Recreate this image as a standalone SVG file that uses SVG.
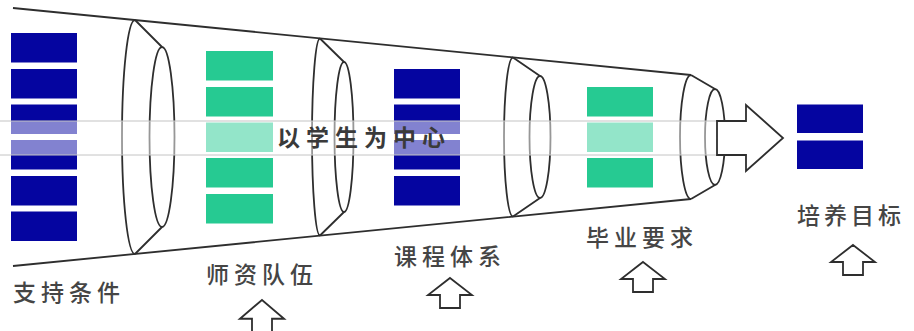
<svg xmlns="http://www.w3.org/2000/svg" xmlns:xlink="http://www.w3.org/1999/xlink" width="914" height="331" viewBox="0 0 914 331">
<style>
.ln{fill:none;stroke:#2e2e2e;stroke-width:1.8;stroke-linejoin:round}
.blue{fill:#0505a0}
.green{fill:#26ca92}
.lbl{font-family:"Noto Sans CJK SC","Noto Sans",sans-serif;font-size:23px;font-weight:500;fill:#454545;letter-spacing:5px}
.up{fill:#fff;stroke:#2e2e2e;stroke-width:1.8;stroke-linejoin:miter}
</style>
<defs>
<path id="uparrow" d="M0,0 L22,17 L10,17 L10,30 L-10,30 L-10,17 L-22,17 Z"/>
</defs>
<rect width="914" height="331" fill="#fff"/>
<g id="funnel">
<path class="ln" d="M13,8 L691,75 M13,266 L691,199"/>
<g id="ring1"><path class="ln" d="M135,20 A13,117 0 0 0 135,254 M135,20 L162,47 M135,254 L162,227"/><ellipse class="ln" cx="162" cy="137" rx="12.5" ry="90"/></g>
<g id="ring2"><path class="ln" d="M320,38.5 A8,98.5 0 0 0 320,235.5 M320,38.5 L344,62 M320,235.5 L344,212"/><ellipse class="ln" cx="344" cy="137" rx="9.5" ry="75"/></g>
<g id="ring3"><path class="ln" d="M513,57.5 A9,79.5 0 0 0 513,216.5 M513,57.5 L540,76 M513,216.5 L540,198"/><ellipse class="ln" cx="540" cy="137" rx="10.5" ry="61"/></g>
<g id="ring4"><path class="ln" d="M691,75 A11,62 0 0 0 691,199 M691,75 L715,89 M691,199 L715,185"/><ellipse class="ln" cx="715" cy="137" rx="10" ry="48"/></g>
</g>
<g id="col-support">
<rect class="blue" x="11" y="33" width="66" height="29.5"/>
<rect class="blue" x="11" y="69" width="66" height="29.5"/>
<rect class="blue" x="11" y="104.5" width="66" height="29.5"/>
<rect class="blue" x="11" y="140" width="66" height="29.5"/>
<rect class="blue" x="11" y="176" width="66" height="29.5"/>
<rect class="blue" x="11" y="211.5" width="66" height="29.5"/>
</g>
<g id="col-teachers">
<rect class="green" x="206" y="51" width="67" height="29.5"/>
<rect class="green" x="206" y="87" width="67" height="29.5"/>
<rect class="green" x="206" y="122.5" width="67" height="29.5"/>
<rect class="green" x="206" y="158" width="67" height="29.5"/>
<rect class="green" x="206" y="194" width="67" height="29.5"/>
</g>
<g id="col-curriculum">
<rect class="blue" x="394" y="69" width="66" height="29.5"/>
<rect class="blue" x="394" y="104.5" width="66" height="29.5"/>
<rect class="blue" x="394" y="140" width="66" height="29.5"/>
<rect class="blue" x="394" y="176" width="66" height="29.5"/>
</g>
<g id="col-graduation">
<rect class="green" x="587" y="87" width="66" height="29.5"/>
<rect class="green" x="587" y="122.5" width="66" height="29.5"/>
<rect class="green" x="587" y="158" width="66" height="29.5"/>
</g>
<g id="col-objectives">
<rect class="blue" x="797" y="104.5" width="66" height="28.5"/>
<rect class="blue" x="797" y="140.5" width="66" height="28.5"/>
</g>
<g id="center-band">
<rect x="-2" y="121" width="720" height="34" fill="#fff" fill-opacity="0.5" stroke="#c4c4c4" stroke-width="1"/>
<text x="277" y="146" style="font-family:'Noto Sans CJK SC','Noto Sans',sans-serif;font-size:23px;font-weight:bold;fill:#3a3a3a;letter-spacing:6px">以学生为中心</text>
</g>
<g id="connectors">
<path id="main-arrow" d="M717,121 L746,121 L746,105 L783,138 L746,171 L746,155 L717,155 Z" fill="#fff" stroke="#2e2e2e" stroke-width="1.8" stroke-linejoin="miter"/>
<use xlink:href="#uparrow" class="up" transform="translate(262,300) scale(1,1.1)"/>
<use xlink:href="#uparrow" class="up" transform="translate(450,278)"/>
<use xlink:href="#uparrow" class="up" transform="translate(643,262)"/>
<use xlink:href="#uparrow" class="up" transform="translate(853,245)"/>
</g>
<g id="labels">
<text class="lbl" x="13" y="301">支持条件</text>
<text class="lbl" x="206" y="283">师资队伍</text>
<text class="lbl" x="394" y="265">课程体系</text>
<text class="lbl" x="586" y="246">毕业要求</text>
<text class="lbl" x="797" y="224" style="letter-spacing:4px">培养目标</text>
</g>
</svg>
